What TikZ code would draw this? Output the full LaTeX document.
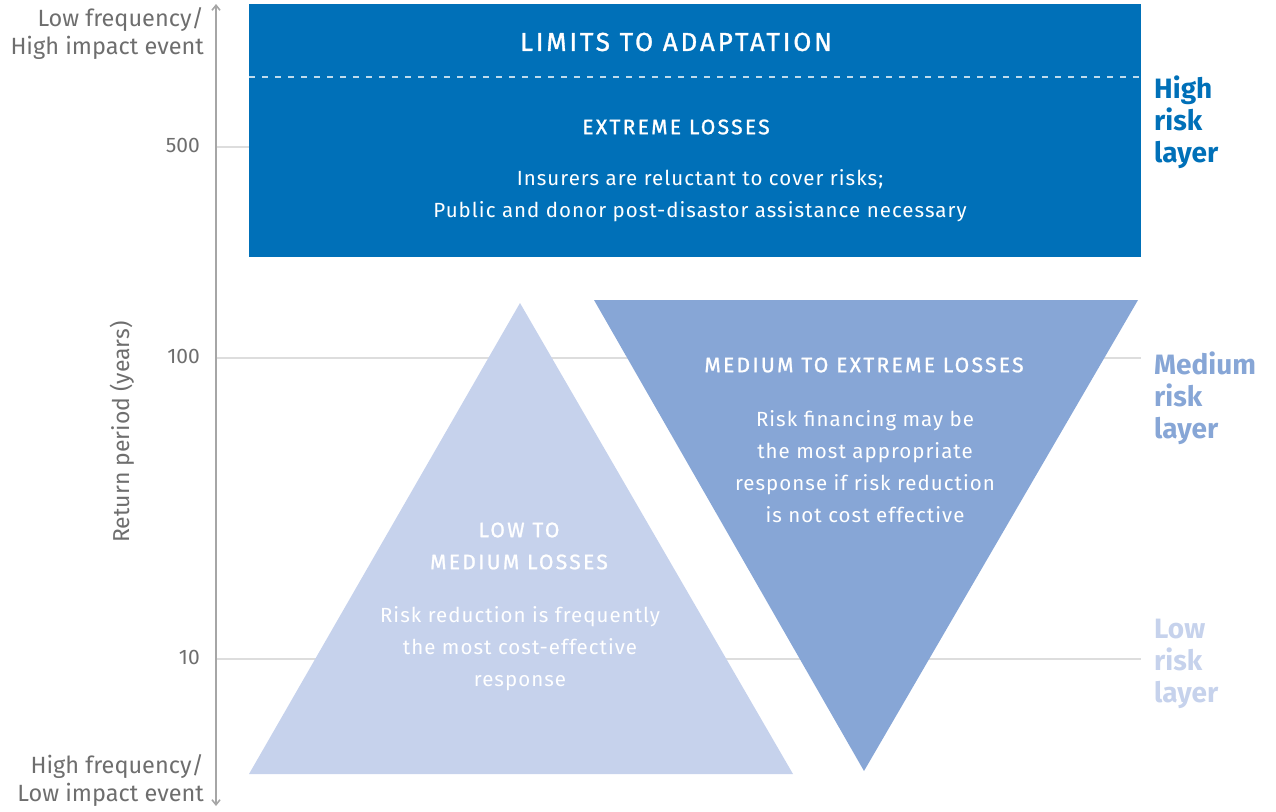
\documentclass[tikz,border=0pt]{standalone}
\usepackage{fontspec}
\setmainfont{Fira Sans}
\newfontfamily\capsfont[LetterSpace=11, FakeBold=1.2]{Fira Sans}
\newfontfamily\bodyfont[LetterSpace=5]{Fira Sans}
\usetikzlibrary{arrows.meta}
\definecolor{hiblue}{HTML}{0070B8}
\definecolor{medblue}{HTML}{87A6D6}
\definecolor{lowblue}{HTML}{C6D2EC}
\definecolor{axisgray}{HTML}{A6A6A6}
\definecolor{gridgray}{HTML}{DDDDDD}
\definecolor{txtgray}{HTML}{6E6E6E}
\tikzset{
  axislbl/.style={font=\fontsize{23.5}{28}\selectfont, text=txtgray, align=right, anchor=east, inner sep=0pt},
  ticklbl/.style={font=\fontsize{21}{26}\selectfont, text=txtgray, anchor=east, inner sep=0pt},
  bigcaps/.style={font=\capsfont\fontsize{26}{28}\selectfont, text=white, inner sep=0pt},
  smallcaps/.style={font=\capsfont\fontsize{21}{32}\selectfont, text=white, align=center, inner sep=0pt},
  body/.style={font=\bodyfont\fontsize{20.5}{32}\selectfont, text=white, align=center, inner sep=0pt},
  layerlbl/.style={font=\bfseries\fontsize{28}{32}\selectfont, align=left, anchor=north west, inner sep=0pt},
  grid/.style={draw=gridgray, line width=1.2pt}
}
\begin{document}
\begin{tikzpicture}[x=1pt,y=-1pt]
\useasboundingbox (0,0) rectangle (1276,811);
% grid lines
\coordinate (g500a) at (216,147); \coordinate (g500b) at (249,147);
\coordinate (g100a) at (216,358); \coordinate (g100b) at (1141,358);
\coordinate (g10a) at (216,659); \coordinate (g10b) at (1141,659);
\draw[grid] (g500a) -- (g500b);
\draw[grid] (g100a) -- (g100b);
\draw[grid] (g10a) -- (g10b);
% axis
\coordinate (axtop) at (216,4);
\coordinate (axbot) at (216,806);
\draw[axisgray, line width=1.6pt, {Straight Barb[length=5pt,width=8pt]}-{Straight Barb[length=5pt,width=8pt]}] (axtop) -- (axbot);
% axis labels
\node[axislbl] (toplbl) at (204,34) {Low frequency/\\High impact event};
\node[axislbl] (botlbl) at (204,781) {High frequency/\\Low impact event};
\node[ticklbl] (t500) at (200,145) {500};
\node[ticklbl] (t100) at (200,356) {100};
\node[ticklbl] (t10) at (200,657) {10};
\node[font=\fontsize{23}{28}\selectfont, text=txtgray, rotate=90, inner sep=0pt] (ylbl) at (122,432) {Return period (years)};
% top box
\fill[hiblue] (249,4) rectangle (1141,257);
\coordinate (dl) at (249,77); \coordinate (dr) at (1141,77);
\draw[white!75!hiblue, line width=1.2pt, dash pattern=on 6pt off 7pt] (dl) -- (dr);
\node[bigcaps] (limits) at (676,42) {LIMITS TO ADAPTATION};
\node[smallcaps] (extreme) at (676,127) {EXTREME LOSSES};
\node[body] (ins) at (700,196) {Insurers are reluctant to cover risks;\\Public and donor post-disastor assistance necessary};
% triangles
\fill[lowblue] (520,303) -- (793,774) -- (249,774) -- cycle;
\fill[medblue] (594,300) -- (1138,300) -- (864,771) -- cycle;
\node[smallcaps] (lowmed) at (519,546) {LOW TO\\MEDIUM LOSSES};
\node[body] (rr) at (520,649) {Risk reduction is frequently\\the most cost-effective\\response};
\node[smallcaps] (medext) at (864,365) {MEDIUM TO EXTREME LOSSES};
\node[body] (rf) at (865,467) {Risk financing may be\\the most appropriate\\response if risk reduction\\is not cost effective};
% layer labels
\node[layerlbl, text=hiblue] (hi) at (1154,76) {High\\risk\\layer};
\node[layerlbl, text=medblue] (med) at (1154,352) {Medium\\risk\\layer};
\node[layerlbl, text=lowblue] (low) at (1154,619) {Low\\risk\\layer};
\end{tikzpicture}
\end{document}
